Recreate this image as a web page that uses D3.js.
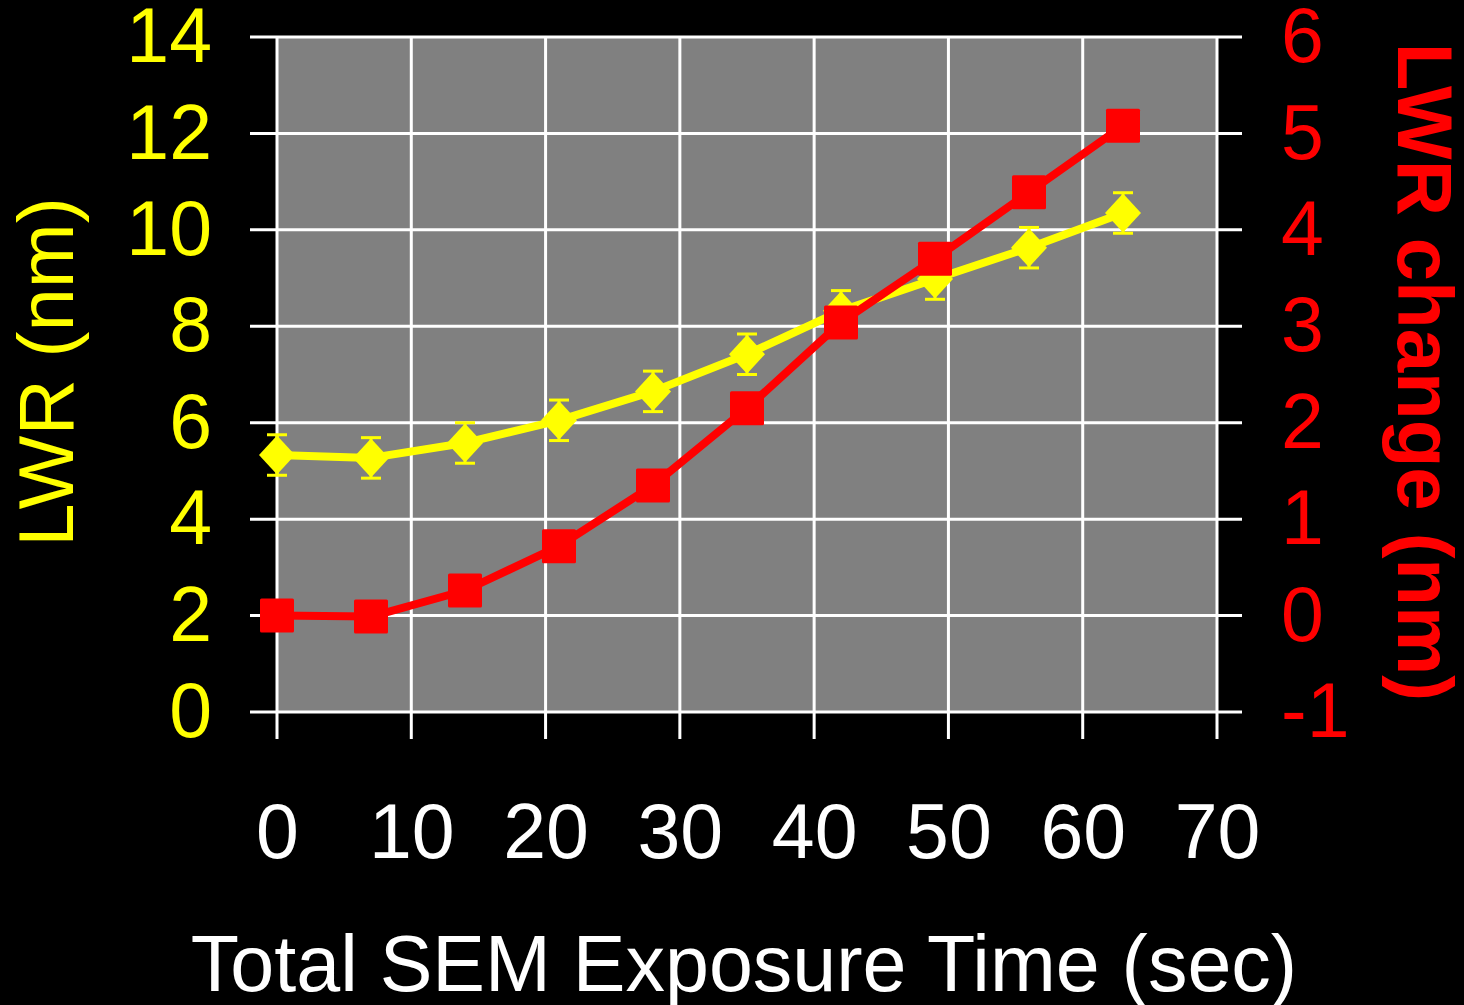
<!DOCTYPE html>
<html>
<head>
<meta charset="utf-8">
<script src="https://cdn.jsdelivr.net/npm/d3@7"></script>
<style>
  body{margin:0;background:#000;}
  svg{display:block;}
  text{font-family:"Liberation Sans",Arial,sans-serif;}
</style>
</head>
<body>
<div id="chart"></div>
<script>
// exposure time (sec)
const timeSec=[0,7,14,21,28,35,42,49,56,63];
// LWR (nm), left axis, with error bars
const lwr=[5.33,5.27,5.58,6.05,6.65,7.42,8.32,8.98,9.63,10.35];
const lwrErr=[0.42,0.42,0.42,0.42,0.42,0.42,0.42,0.42,0.42,0.42];
// LWR change (nm), right axis
const lwrChange=[0,-0.01,0.26,0.72,1.35,2.15,3.04,3.70,4.39,5.08];

const xTicks=[0,10,20,30,40,50,60,70];
const leftTicks=[0,2,4,6,8,10,12,14];
const rightTicks=[-1,0,1,2,3,4,5,6];

const W=1464,H=1005;
const plotL=277,plotR=1217,plotT=37,plotB=712;

const x=d3.scaleLinear().domain([0,70]).range([plotL,plotR]);
const yL=d3.scaleLinear().domain([0,14]).range([plotB,plotT]);
const yR=d3.scaleLinear().domain([-1,6]).range([plotB,plotT]);

const svg=d3.select("#chart").append("svg")
    .attr("width",W).attr("height",H)
    .style("background","#000");

svg.append("rect")
    .attr("x",plotL).attr("y",plotT)
    .attr("width",plotR-plotL).attr("height",plotB-plotT)
    .attr("fill","#808080");

// grid + tick marks
svg.selectAll(".hgrid")
    .data(leftTicks)
    .join("line")
    .attr("class","hgrid")
    .attr("x1",plotL-27).attr("x2",plotR+25)
    .attr("y1",d=>yL(d)).attr("y2",d=>yL(d))
    .attr("stroke","#fff").attr("stroke-width",3);
svg.selectAll(".vgrid")
    .data(xTicks)
    .join("line")
    .attr("class","vgrid")
    .attr("x1",d=>x(d)).attr("x2",d=>x(d))
    .attr("y1",plotT).attr("y2",plotB+27)
    .attr("stroke","#fff").attr("stroke-width",3);

// axes (labels only)
const fmt=d=>String(d);
const gx=svg.append("g")
    .attr("transform",`translate(0,${plotB})`)
    .call(d3.axisBottom(x).tickValues(xTicks).tickFormat(fmt).tickSize(0).tickPadding(91));
const gl=svg.append("g")
    .attr("transform",`translate(${plotL},0)`)
    .call(d3.axisLeft(yL).tickValues(leftTicks).tickFormat(fmt).tickSize(0).tickPadding(65));
const gr=svg.append("g")
    .attr("transform",`translate(${plotR},0)`)
    .call(d3.axisRight(yR).tickValues(rightTicks).tickFormat(fmt).tickSize(0).tickPadding(64));
[gx,gl,gr].forEach(g=>{
    g.select(".domain").remove();
    g.selectAll("text").style("font-size","77px").attr("font-family",null);
});
gx.selectAll("text").attr("fill","#fff");
gl.selectAll("text").attr("fill","#ffff00");
gr.selectAll("text").attr("fill","#ff0000");

// LWR series
const yel=timeSec.map((t,i)=>({t:t,v:lwr[i],e:lwrErr[i]}));
svg.append("path")
    .datum(yel)
    .attr("fill","none")
    .attr("stroke","#ffff00")
    .attr("stroke-width",8)
    .attr("stroke-linejoin","round")
    .attr("d",d3.line().x(d=>x(d.t)).y(d=>yL(d.v)));
const eb=svg.selectAll(".err").data(yel).join("g").attr("class","err");
eb.append("line")
    .attr("x1",d=>x(d.t)).attr("x2",d=>x(d.t))
    .attr("y1",d=>yL(d.v-d.e)).attr("y2",d=>yL(d.v+d.e))
    .attr("stroke","#ffff00").attr("stroke-width",3);
eb.selectAll(".cap")
    .data(d=>[[d.t,d.v-d.e],[d.t,d.v+d.e]])
    .join("line")
    .attr("x1",d=>x(d[0])-10).attr("x2",d=>x(d[0])+10)
    .attr("y1",d=>yL(d[1])).attr("y2",d=>yL(d[1]))
    .attr("stroke","#ffff00").attr("stroke-width",3);
svg.selectAll(".dia")
    .data(yel)
    .join("path")
    .attr("class","dia")
    .attr("transform",d=>`translate(${x(d.t)},${yL(d.v)})`)
    .attr("d","M0,-19.5L18,0L0,19.5L-18,0Z")
    .attr("fill","#ffff00");

// LWR change series
const red=timeSec.map((t,i)=>({t:t,v:lwrChange[i]}));
svg.append("path")
    .datum(red)
    .attr("fill","none")
    .attr("stroke","#ff0000")
    .attr("stroke-width",8)
    .attr("stroke-linejoin","round")
    .attr("d",d3.line().x(d=>x(d.t)).y(d=>yR(d.v)));
svg.selectAll(".sq")
    .data(red)
    .join("rect")
    .attr("class","sq")
    .attr("x",d=>x(d.t)-17).attr("y",d=>yR(d.v)-17)
    .attr("width",34).attr("height",34)
    .attr("rx",1.5)
    .attr("fill","#ff0000");

// titles
svg.append("text")
    .attr("x",744).attr("y",991)
    .attr("text-anchor","middle")
    .attr("fill","#fff")
    .style("font-size","79px")
    .text("Total SEM Exposure Time (sec)");
svg.append("text")
    .attr("transform","translate(73,372) rotate(-90)")
    .attr("text-anchor","middle")
    .attr("fill","#ffff00")
    .style("font-size","78px")
    .text("LWR (nm)");
svg.append("text")
    .attr("transform","translate(1398,372) rotate(90)")
    .attr("text-anchor","middle")
    .attr("fill","#ff0000")
    .style("font-size","78px")
    .style("font-weight","bold")
    .text("LWR change (nm)");
</script>
</body>
</html>
